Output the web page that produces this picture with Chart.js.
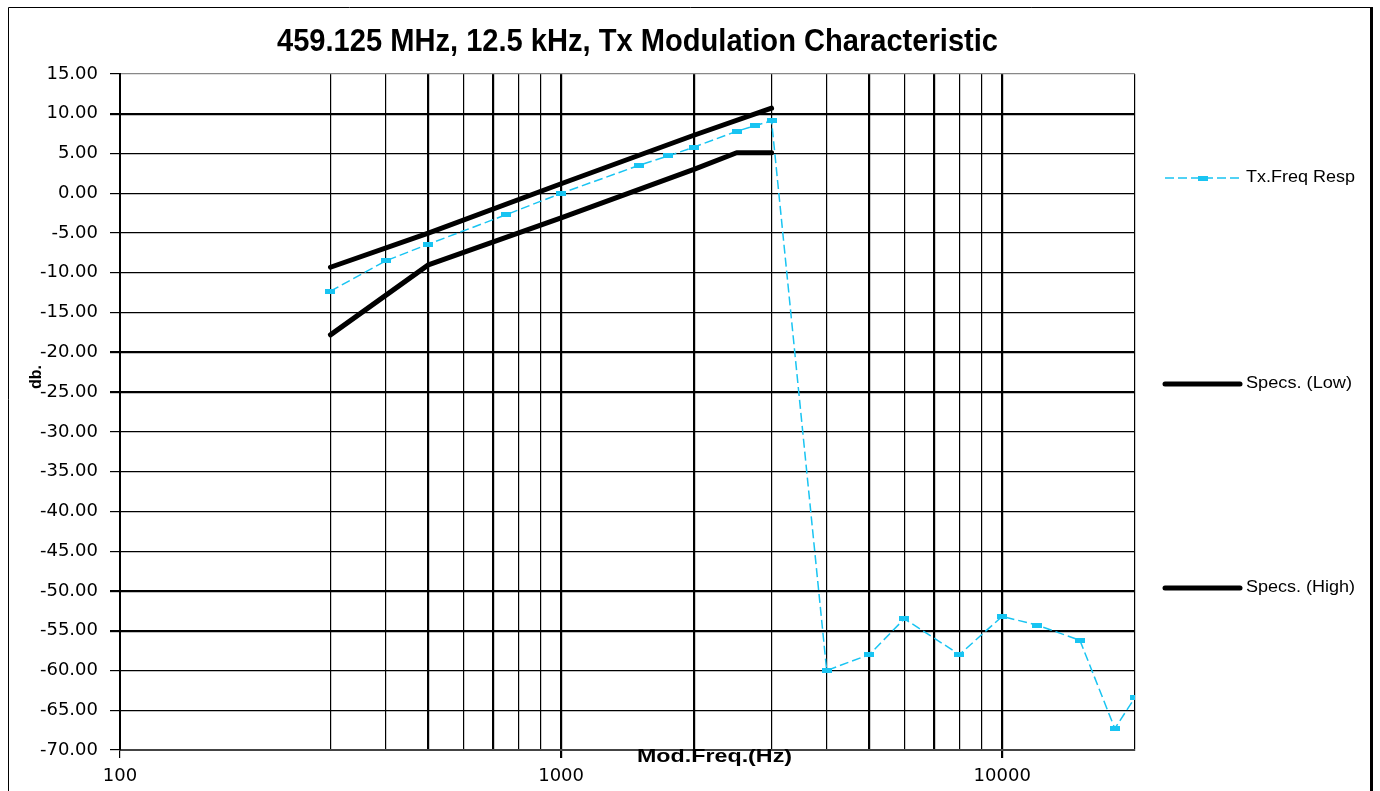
<!DOCTYPE html>
<html>
<head>
<meta charset="utf-8">
<script src="https://cdn.jsdelivr.net/npm/chart.js@4/dist/chart.umd.min.js"></script>
<style>
  html, body { margin: 0; padding: 0; background: #fff; }
  #wrap { width: 1380px; height: 791px; position: relative; }
</style>
</head>
<body>
<div id="wrap"><canvas id="c"></canvas></div>
<script>
// ---- data ----
const chartTitle = "459.125 MHz, 12.5 kHz, Tx Modulation Characteristic";
const xTitle = "Mod.Freq.(Hz)";
const yTitle = "db.";
const seriesNames = ["Tx.Freq Resp", "Specs. (Low)", "Specs. (High)"];

const txFreq = [300, 400, 500, 750, 1000, 1500, 1750, 2000, 2500, 2750, 3000, 4000, 5000, 6000, 8000, 10000, 12000, 15000, 18000, 20000];
const txResp = [-12.3, -8.5, -6.4, -2.7, 0.0, 3.5, 4.7, 5.8, 7.8, 8.5, 9.1, -60.0, -58.0, -53.5, -58.0, -53.2, -54.3, -56.2, -67.3, -63.4];

const specLowFreq = [300, 500, 1000, 2000, 2500, 3000];
const specLowVal = [-17.8, -9.0, -3.1, 3.0, 5.1, 5.1];

const specHighFreq = [300, 500, 1000, 2000, 3000];
const specHighVal = [-9.3, -5.0, 1.2, 7.3, 10.7];

const xTickValues = [100, 300, 400, 500, 600, 700, 800, 900, 1000, 2000, 3000, 4000, 5000, 6000, 7000, 8000, 9000, 10000, 20000];
const xLabelValues = [100, 1000, 10000];
const yMin = -70, yMax = 15, yStep = 5;

// ---- styles ----
const cyan = '#18C4F2';
const xThick = [500, 700, 1000, 2000, 5000, 7000, 10000];
const yThick = [10, -20, -25, -50, -55];

const marker = document.createElement('canvas');
marker.width = 10; marker.height = 5;
const mctx = marker.getContext('2d');
mctx.fillStyle = cyan; mctx.fillRect(0, 0, 10, 5);

function pts(xs, ys) { return xs.map((x, i) => ({ x: x, y: ys[i] })); }

function drawStretched(ctx, text, cx, cy, font, targetW, align) {
  ctx.save();
  ctx.font = font;
  const w = ctx.measureText(text).width;
  const s = targetW / w;
  ctx.translate(cx, cy);
  ctx.scale(s, 1);
  ctx.textAlign = align || 'center';
  ctx.textBaseline = 'middle';
  ctx.fillStyle = '#000';
  ctx.fillText(text, 0, 0);
  ctx.restore();
}

const decor = {
  id: 'decor',
  afterDraw(chart) {
    const ctx = chart.ctx;
    // outer frame
    ctx.save();
    ctx.strokeStyle = '#000';
    ctx.lineWidth = 1;
    ctx.beginPath();
    ctx.moveTo(8.5, 791); ctx.lineTo(8.5, 7.5); ctx.lineTo(1372, 7.5);
    ctx.stroke();
    ctx.lineWidth = 3;
    ctx.beginPath();
    ctx.moveTo(1371.5, 7); ctx.lineTo(1371.5, 791);
    ctx.stroke();
    ctx.restore();

    // title
    drawStretched(ctx, chartTitle, 637.5, 42, 'bold 31px "Liberation Sans", Arial, sans-serif', 721, 'center');
    // x title
    drawStretched(ctx, xTitle, 714.5, 757, 'bold 18px "Liberation Sans", Arial, sans-serif', 155, 'center');
    // y title
    ctx.save();
    ctx.translate(37, 377);
    ctx.rotate(-Math.PI / 2);
    ctx.font = 'bold 16px "Liberation Sans", Arial, sans-serif';
    ctx.textAlign = 'center';
    ctx.textBaseline = 'middle';
    ctx.fillStyle = '#000';
    ctx.fillText(yTitle, 0, 0);
    ctx.restore();

    // legend
    const ly = [178, 384, 588];
    const lx0 = 1165, lx1 = 1240, tx = 1246;
    ctx.save();
    ctx.strokeStyle = cyan; ctx.lineWidth = 1.5; ctx.setLineDash([9, 4]);
    ctx.beginPath(); ctx.moveTo(lx0, ly[0]); ctx.lineTo(lx1, ly[0]); ctx.stroke();
    ctx.setLineDash([]);
    ctx.drawImage(marker, (lx0 + lx1) / 2 - 5, ly[0] - 2.5);
    ctx.strokeStyle = '#000'; ctx.lineWidth = 5; ctx.lineCap = 'round';
    for (let i = 1; i < 3; i++) {
      ctx.beginPath(); ctx.moveTo(lx0, ly[i]); ctx.lineTo(lx1, ly[i]); ctx.stroke();
    }
    ctx.restore();
    const widths = [109, 106, 109];
    for (let i = 0; i < 3; i++) {
      drawStretched(ctx, seriesNames[i], tx, ly[i], '16px "Liberation Sans", Arial, sans-serif', widths[i], 'left');
    }
  }
};

new Chart(document.getElementById('c'), {
  type: 'scatter',
  data: {
    datasets: [
      {
        label: seriesNames[0],
        data: pts(txFreq, txResp),
        showLine: true,
        borderColor: cyan,
        backgroundColor: cyan,
        borderWidth: 1.5,
        borderDash: [9, 4],
        pointStyle: marker,
        pointRadius: 4,
        tension: 0
      },
      {
        label: seriesNames[1],
        data: pts(specLowFreq, specLowVal),
        showLine: true,
        borderColor: '#000',
        borderWidth: 5,
        pointRadius: 0,
        tension: 0,
        borderCapStyle: 'round',
        borderJoinStyle: 'round'
      },
      {
        label: seriesNames[2],
        data: pts(specHighFreq, specHighVal),
        showLine: true,
        borderColor: '#000',
        borderWidth: 5,
        pointRadius: 0,
        tension: 0,
        borderCapStyle: 'round',
        borderJoinStyle: 'round'
      }
    ]
  },
  options: {
    responsive: true,
    maintainAspectRatio: false,
    animation: false,
    layout: { padding: { left: 0, right: 245, top: 74, bottom: 0 } },
    plugins: {
      legend: { display: false },
      title: { display: false },
      tooltip: { enabled: false }
    },
    scales: {
      x: {
        type: 'logarithmic',
        min: 100,
        max: 20000,
        afterBuildTicks(scale) { scale.ticks = xTickValues.map(v => ({ value: v })); },
        afterFit(scale) { scale.height = 41; },
        ticks: {
          autoSkip: false,
          maxRotation: 0,
          minRotation: 0,
          padding: 8,
          color: '#000',
          font: { family: '"DejaVu Sans", sans-serif', size: 18 },
          callback(value) { return xLabelValues.includes(value) ? String(value) : ''; }
        },
        grid: {
          color(c) { return c.tick && c.tick.value === 100 ? 'rgba(0,0,0,0)' : '#000'; },
          lineWidth(c) { return c.tick && xThick.includes(c.tick.value) ? 2.2 : 1.2; },
          tickLength: 8,
          tickColor(c) { return c.tick && xLabelValues.includes(c.tick.value) ? '#000' : 'rgba(0,0,0,0)'; }
        },
        border: { color: '#444', width: 2 }
      },
      y: {
        type: 'linear',
        min: yMin,
        max: yMax,
        afterFit(scale) { scale.width = 120; },
        ticks: {
          stepSize: yStep,
          padding: 12,
          color: '#000',
          font: { family: '"DejaVu Sans", sans-serif', size: 18 },
          callback(value) { return Number(value).toFixed(2); }
        },
        grid: {
          color(c) { return c.tick && c.tick.value === yMax ? '#888' : '#000'; },
          lineWidth(c) { return c.tick && yThick.includes(c.tick.value) ? 2.2 : 1.2; },
          tickLength: 10,
          tickColor: '#000'
        },
        border: { color: '#000', width: 2 }
      }
    }
  },
  plugins: [decor]
});
</script>
</body>
</html>
